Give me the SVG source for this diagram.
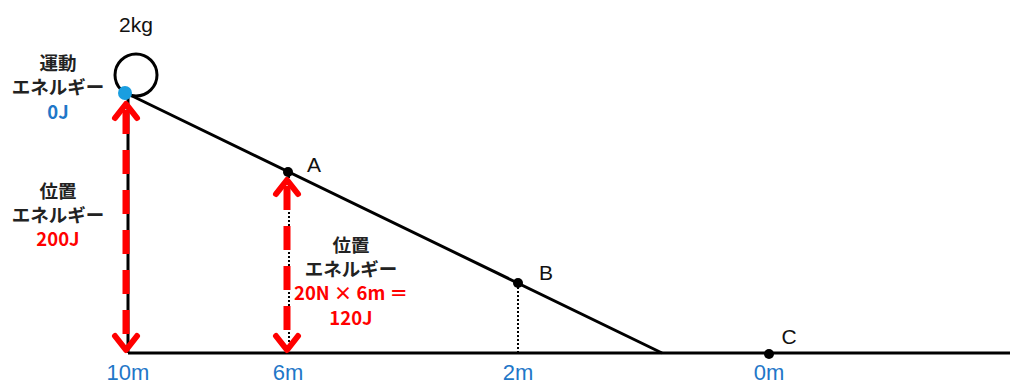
<svg xmlns="http://www.w3.org/2000/svg" width="1010" height="385" viewBox="0 0 1010 385">
<style>
.ln{stroke:#000;stroke-width:3;fill:none}
.dot{stroke:#000;stroke-width:2;stroke-dasharray:2 2;fill:none}
.red{stroke:#ff0000;stroke-width:7;stroke-dasharray:24 16;fill:none}
.hd{stroke:#ff0000;stroke-width:6;fill:none;stroke-linecap:round;stroke-linejoin:round}
.jp{font-family:"Noto Sans CJK JP","Liberation Sans",sans-serif;font-weight:bold;font-size:18.5px;fill:#222;text-anchor:middle}
.r{font-family:"Noto Sans CJK JP","Liberation Sans",sans-serif;font-weight:bold;font-size:18.5px;fill:#ff0000;text-anchor:middle}
.b{font-family:"Noto Sans CJK JP","Liberation Sans",sans-serif;font-weight:bold;font-size:18.5px;fill:#1f77c8;text-anchor:middle}
.m{font-family:"Liberation Sans",sans-serif;font-size:22px;fill:#1f77c8;text-anchor:middle}
.p{font-family:"Liberation Sans",sans-serif;font-size:21px;fill:#111;text-anchor:middle}
</style>
<g id="connectors">
<line class="ln" x1="126" y1="93" x2="662" y2="353"/>
<line class="ln" x1="128" y1="93" x2="128" y2="353"/>
<line class="ln" x1="128" y1="353" x2="1010" y2="353"/>
<line class="dot" x1="289" y1="172" x2="289" y2="352"/>
<line class="dot" x1="518" y1="283" x2="518" y2="352"/>
<line class="red" x1="126" y1="110" x2="126" y2="345"/>
<polyline class="hd" points="115,118 126,104 137,118"/>
<polyline class="hd" points="115,336 126,350 137,336"/>
<line class="red" x1="287" y1="186" x2="287" y2="345"/>
<polyline class="hd" points="276,194 287,180 298,194"/>
<polyline class="hd" points="276,336 287,350 298,336"/>
</g>
<g id="ball">
<circle cx="136" cy="75" r="21" fill="none" stroke="#000" stroke-width="3"/>
<circle cx="125" cy="93" r="7" fill="#1a9ee0"/>
<text class="p" x="136" y="32" font-size="23">2kg</text>
</g>
<g id="pointA"><circle cx="288" cy="172" r="5" fill="#000"/><text class="p" x="314" y="172">A</text></g>
<g id="pointB"><circle cx="518" cy="283" r="5" fill="#000"/><text class="p" x="546" y="280">B</text></g>
<g id="pointC"><circle cx="769" cy="354" r="5" fill="#000"/><text class="p" x="789" y="344">C</text></g>
<g id="kinetic">
<text class="jp" x="58" y="70">運動</text>
<text class="jp" x="58" y="94">エネルギー</text>
<text class="b" x="58" y="119">0J</text>
</g>
<g id="potential-top">
<text class="jp" x="58" y="198">位置</text>
<text class="jp" x="58" y="222">エネルギー</text>
<text class="r" x="58" y="246">200J</text>
</g>
<g id="potential-A">
<text class="jp" x="351" y="252">位置</text>
<text class="jp" x="351" y="276">エネルギー</text>
<text class="r" x="351" y="300">20N × 6m ＝</text>
<text class="r" x="351" y="325">120J</text>
</g>
<g id="heights">
<text class="m" x="128" y="380">10m</text>
<text class="m" x="288" y="380">6m</text>
<text class="m" x="518" y="380">2m</text>
<text class="m" x="769" y="380">0m</text>
</g>
</svg>
